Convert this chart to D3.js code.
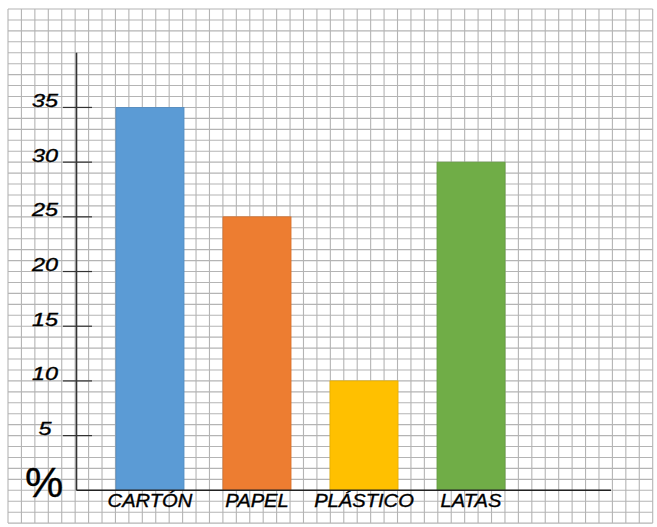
<!DOCTYPE html>
<html>
<head>
<meta charset="utf-8">
<script src="https://cdn.jsdelivr.net/npm/d3@7"></script>
<style>
  html, body { margin: 0; padding: 0; background: #fff; }
  svg { display: block; }
  text { font-family: "Liberation Sans", Arial, sans-serif; fill: #000; stroke: #000; stroke-width: 0.35px; }
</style>
</head>
<body>
<svg id="chart" width="657" height="527"></svg>
<script>
// data
var categories = ['CARTÓN', 'PAPEL', 'PLÁSTICO', 'LATAS'];
var values = [35, 25, 10, 30];
var colors = ['#5b9bd5', '#ed7d31', '#ffc000', '#70ad47'];
var tickValues = [5, 10, 15, 20, 25, 30, 35];

var svg = d3.select('#chart');

// one grid row is one percent
var y = d3.scaleLinear().domain([0, 44]).range([490.3, 9]);
var gridCols = d3.scaleLinear().domain([0, 48]).range([8, 652.7]);
var x = d3.scaleBand()
    .domain(categories)
    .range([77, 544])
    .paddingInner(0.364)
    .paddingOuter(0.364);

// squared paper
var grid = svg.append('g')
    .attr('stroke', '#b4b4b4')
    .attr('stroke-width', 1.1);

grid.selectAll('line.h')
  .data(d3.range(-3, 45))
  .enter().append('line')
    .attr('class', 'h')
    .attr('x1', gridCols(0)).attr('x2', gridCols(48))
    .attr('y1', function(d) { return y(d); })
    .attr('y2', function(d) { return y(d); });

grid.selectAll('line.v')
  .data(d3.range(0, 49))
  .enter().append('line')
    .attr('class', 'v')
    .attr('y1', y(44)).attr('y2', y(-3))
    .attr('x1', function(d) { return gridCols(d); })
    .attr('x2', function(d) { return gridCols(d); });

// bars
svg.append('g')
  .selectAll('rect')
  .data(values)
  .enter().append('rect')
    .attr('x', function(d, i) { return x(categories[i]); })
    .attr('y', function(d) { return y(d); })
    .attr('width', x.bandwidth())
    .attr('height', function(d) { return y(0) - y(d); })
    .attr('fill', function(d, i) { return colors[i]; })
    .attr('stroke', function(d, i) { return d3.rgb(colors[i]).darker(0.3); })
    .attr('stroke-width', 0.8);

// axes
svg.append('line')
    .attr('x1', 76.5).attr('x2', 76.5)
    .attr('y1', y(40)).attr('y2', y(0))
    .attr('stroke', '#333').attr('stroke-width', 1.6);

svg.append('line')
    .attr('x1', 76.5).attr('x2', 611)
    .attr('y1', y(0)).attr('y2', y(0))
    .attr('stroke', '#222').attr('stroke-width', 1.4);

var ticks = svg.append('g').selectAll('g')
  .data(tickValues)
  .enter().append('g');

ticks.append('line')
    .attr('x1', 63).attr('x2', 92)
    .attr('y1', function(d) { return y(d); })
    .attr('y2', function(d) { return y(d); })
    .attr('stroke', '#333').attr('stroke-width', 1.2);

ticks.append('text')
    .attr('transform', function(d) { return 'translate(45,' + (y(d) - 0.5) + ') scale(1.3,1)'; })
    .attr('text-anchor', 'middle')
    .style('font-size', '18px')
    .style('font-style', 'italic')
    .text(function(d) { return d; });

// category labels
svg.append('g').selectAll('text')
  .data(categories)
  .enter().append('text')
    .attr('transform', function(d) {
      return 'translate(' + (x(d) + x.bandwidth() / 2) + ',' + 507 + ') scale(1.12,1)';
    })
    .attr('text-anchor', 'middle')
    .style('font-size', '18px')
    .style('font-style', 'italic')
    .text(function(d) { return d; });

svg.append('text')
    .attr('x', 25)
    .attr('y', 497)
    .style('font-size', '43px')
    .text('%');
</script>
</body>
</html>
